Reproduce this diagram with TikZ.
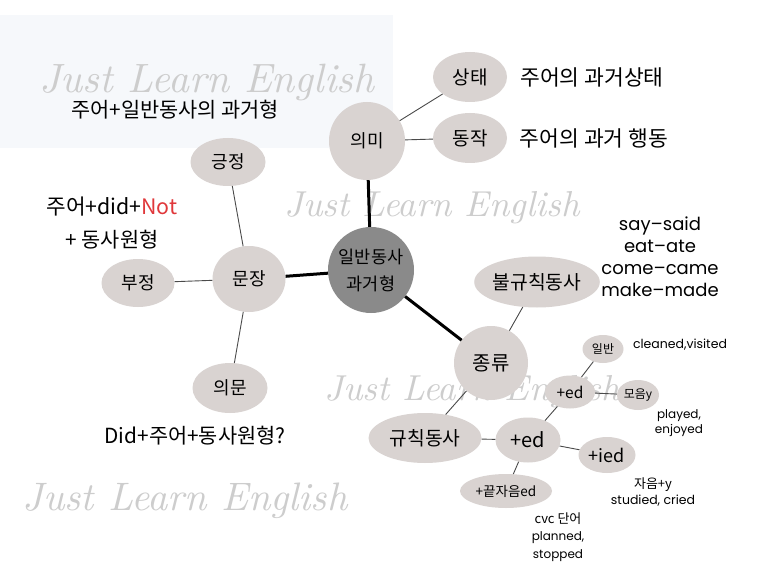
\documentclass[tikz,border=0pt]{standalone}
\usepackage{fontspec}
\usepackage{graphicx}
\setmainfont{Noto Sans CJK KR}
\newfontfamily\latfont{Poppins}
\newfontfamily\wmfont{Latin Modern Roman}
\usetikzlibrary{shapes.geometric}
\definecolor{nodefill}{HTML}{D9D3D1}
\definecolor{centerfill}{HTML}{8A8A8A}
\definecolor{bgblue}{HTML}{F6F8FB}
\definecolor{notred}{HTML}{E0383B}
\definecolor{wmgray}{HTML}{CDCDCD}
\definecolor{thinline}{HTML}{4A4A4A}
\tikzset{
  bub/.style={ellipse, fill=nodefill, inner sep=0pt},
  hub/.style={circle, fill=centerfill, inner sep=0pt, minimum size=86pt},
  thick link/.style={line width=3pt, black},
  thin link/.style={line width=0.9pt, thinline},
  fs/.style={font=\fontsize{#1}{#1}\selectfont},
  lbl/.style={inner sep=0pt, align=center},
  wm/.style={inner sep=0pt, text=wmgray, font=\wmfont\itshape}
}
\begin{document}
\begin{tikzpicture}[x=1pt, y=-1pt]
\useasboundingbox (0,0) rectangle (773,580);
\fill[white] (0,0) rectangle (773,580);
\fill[bgblue] (0,15) rectangle (393,148);

% watermarks
\node[wm] (wm1) at (207,82) {\resizebox{335pt}{!}{Just Learn English}};
\node[wm] (wm2) at (432,208) {\resizebox{295pt}{!}{Just Learn English}};
\node[wm] (wm3) at (472,392) {\resizebox{295pt}{!}{Just Learn English}};
\node[wm] (wm4) at (185,501) {\resizebox{325pt}{!}{Just Learn English}};

% nodes
\node[hub, align=center, font=\fontsize{17.5}{27}\selectfont] (center) at (371,270) {일반동사\\과거형};
\node[bub, minimum width=76pt, minimum height=78pt, fs=18] (uimi) at (367,141) {의미};
\node[bub, minimum width=74pt, minimum height=50pt, fs=19] (sangtae) at (470,77) {상태};
\node[bub, minimum width=74pt, minimum height=50pt, fs=19] (dongjak) at (470,138) {동작};

\node[bub, minimum width=73pt, minimum height=66pt, fs=18] (munjang) at (249,279) {문장};
\node[bub, minimum width=75pt, minimum height=48pt, fs=18] (geung) at (228,162) {긍정};
\node[bub, minimum width=73pt, minimum height=48pt, fs=18] (bu) at (138,283) {부정};
\node[bub, minimum width=75pt, minimum height=50pt, fs=18] (uimun) at (230,388) {의문};

\node[bub, minimum width=74pt, minimum height=74pt, fs=20] (jong) at (491,363) {종류};
\node[bub, minimum width=112pt, minimum height=51pt, fs=19.3] (bulgyu) at (537,282) {불규칙동사};
\node[bub, minimum width=113pt, minimum height=50pt, fs=19.3] (gyu) at (425,438) {규칙동사};
\node[bub, minimum width=65pt, minimum height=45pt, fs=20] (edA) at (528,440) {+ed};
\node[bub, minimum width=50pt, minimum height=33pt, fs=15.5] (edB) at (570,392) {+ed};
\node[bub, minimum width=41pt, minimum height=28pt, fs=12] (ilban) at (603,349) {일반};
\node[bub, minimum width=42pt, minimum height=30pt, fs=12] (moeum) at (638,395) {모음y};
\node[bub, minimum width=57pt, minimum height=36pt, fs=18] (ied) at (607,455) {+ied};
\node[bub, minimum width=92pt, minimum height=34pt, fs=13.5] (kkeut) at (506,491) {+끝자음ed};

% connectors
\draw[thick link] (uimi) -- (center);
\draw[thick link] (munjang) -- (center);
\draw[thick link] (center) -- (jong);
\draw[thin link] (uimi) -- (sangtae);
\draw[thin link] (uimi) -- (dongjak);
\draw[thin link] (munjang) -- (geung);
\draw[thin link] (munjang) -- (bu);
\draw[thin link] (munjang) -- (uimun);
\draw[thin link] (jong) -- (bulgyu);
\draw[thin link] (jong) -- (gyu);
\draw[thin link] (gyu) -- (edA);
\draw[thin link] (edA) -- (edB);
\draw[thin link] (edA) -- (ied);
\draw[thin link] (edA) -- (kkeut);
\draw[thin link] (edB) -- (ilban);
\draw[thin link] (edB) -- (moeum);

% texts
\node[lbl, fs=20.8] (t1) at (175,110) {주어+일반동사의 과거형};
\node[lbl, fs=21.5] (t2) at (592,77) {주어의 과거상태};
\node[lbl, fs=21.5] (t3) at (594,138) {주어의 과거 행동};
\node[lbl, fs=21.3] (t4) at (112,207) {주어+did+\textcolor{notred}{Not}};
\node[lbl, fs=20.8] (t5) at (112,240) {+ 동사원형};
\node[lbl, fs=20.8] (t6) at (195,436) {Did+주어+동사원형?};
\node[lbl, font=\latfont\fontsize{18}{22}\selectfont] (t7) at (660,257) {say–said\\eat–ate\\come–came\\make–made};
\node[lbl, font=\latfont\fontsize{12.5}{14}\selectfont] (t8) at (680,345) {cleaned,visited};
\node[lbl, font=\latfont\fontsize{12}{15}\selectfont] (t9) at (679,423) {played,\\enjoyed};
\node[lbl, font=\fontsize{13}{16}\selectfont] (t10) at (653,492) {자음+y\\{\latfont\fontsize{12.5}{16}\selectfont studied, cried}};
\node[lbl, font=\fontsize{13}{17.5}\selectfont] (t11) at (558,537) {cvc 단어\\{\latfont\fontsize{12}{17.5}\selectfont planned,}\\{\latfont\fontsize{12}{17.5}\selectfont stopped}};
\end{tikzpicture}
\end{document}
